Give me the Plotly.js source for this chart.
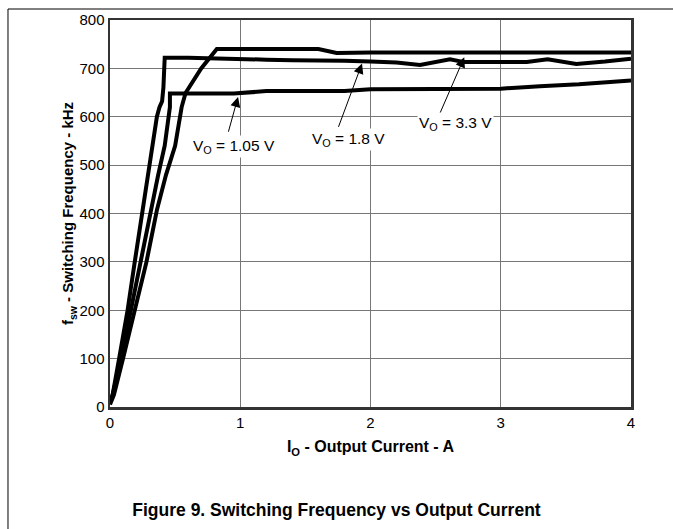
<!DOCTYPE html>
<html>
<head>
<meta charset="utf-8">
<script src="https://cdn.plot.ly/plotly-3.0.1.min.js"></script>
<style>html,body{margin:0;padding:0;background:#fff;}#chart{width:673px;height:529px;}</style>
</head>
<body>
<div id="chart"></div>
<script>
// Output current (A) and switching frequency (kHz) for each output voltage
var io_105 = [0, 0.02, 0.085, 0.16, 0.23, 0.31, 0.37, 0.42, 0.45, 0.46, 0.46, 0.95, 1.2, 1.8, 2.0, 3.0, 3.3, 3.6, 4.0];
var fsw_105 = [10, 25, 100, 200, 300, 407, 480, 540, 610, 620, 648, 648, 653, 653, 657, 658, 663, 667, 675];

var io_18 = [0, 0.03, 0.10, 0.19, 0.28, 0.36, 0.43, 0.50, 0.55, 0.58, 0.70, 0.82, 1.0, 1.3, 1.6, 1.74, 2.0, 3.0, 4.0];
var fsw_18 = [5, 25, 100, 200, 300, 407, 480, 540, 620, 649, 700, 740, 740, 740, 740, 732, 733, 733, 733];

var io_33 = [0, 0.02, 0.07, 0.135, 0.19, 0.25, 0.30, 0.33, 0.36, 0.38, 0.40, 0.41, 0.42, 0.60, 0.80, 1.0, 1.2, 1.4, 1.6, 1.8, 2.0, 2.2, 2.38, 2.61, 2.72, 3.0, 3.2, 3.36, 3.58, 3.8, 4.0];
var fsw_33 = [10, 25, 100, 200, 300, 407, 490, 540, 600, 620, 632, 660, 722, 722, 720, 718, 718, 717, 717, 716, 714, 712, 707, 719, 713, 713, 713, 719, 709, 714, 720];

var xTicks = [0, 1, 2, 3, 4];
var yTicks = [0, 100, 200, 300, 400, 500, 600, 700, 800];

var labels = ["V<sub>O</sub> = 1.05 V", "V<sub>O</sub> = 1.8 V", "V<sub>O</sub> = 3.3 V"];
var labelX = [0.95, 1.83, 2.65];
var labelY = [539, 552, 587];
var tipX = [0.983, 1.935, 2.72];
var tipY = [641, 710, 723];
var tailX = [0.906, 1.75, 2.52];
var tailY = [566, 576, 599];

var font = "Liberation Sans, Arial, Helvetica, sans-serif";

function trace(x, y, name) {
  return {x: x, y: y, name: name, type: 'scatter', mode: 'lines',
          line: {color: '#000', width: 4}, hoverinfo: 'skip'};
}
var data = [trace(io_105, fsw_105, 'VO = 1.05 V'), trace(io_18, fsw_18, 'VO = 1.8 V'), trace(io_33, fsw_33, 'VO = 3.3 V')];

var annotations = [];
for (var i = 0; i < labels.length; i++) {
  annotations.push({x: tipX[i], y: tipY[i], xref: 'x', yref: 'y', ax: tailX[i], ay: tailY[i],
    axref: 'x', ayref: 'y', text: '', showarrow: true, arrowhead: 2, arrowsize: 2,
    arrowwidth: 1, arrowcolor: '#000', standoff: 0});
}
for (var j = 0; j < labels.length; j++) {
  annotations.push({x: labelX[j], y: labelY[j], xref: 'x', yref: 'y', text: labels[j],
    showarrow: false, bgcolor: '#fff', borderpad: 1, font: {family: font, size: 15.5, color: '#000'}});
}

var layout = {
  width: 673, height: 529,
  margin: {l: 110, r: 42, t: 20, b: 122},
  paper_bgcolor: '#fff', plot_bgcolor: '#fff',
  showlegend: false,
  font: {family: font, size: 15, color: '#000'},
  title: {text: '<b>Figure 9. Switching Frequency vs Output Current</b>',
          x: 0.5, xref: 'container', y: 0.036, yref: 'container', yanchor: 'middle', xanchor: 'center',
          font: {family: font, size: 17.5, color: '#000'}},
  xaxis: {range: [0, 4], tickvals: xTicks, ticktext: xTicks.map(String), showgrid: true,
          gridcolor: '#777', gridwidth: 1, zeroline: false, showline: true, mirror: true,
          linecolor: '#333', linewidth: 2.5, ticks: '', ticklen: 0,
          tickfont: {family: font, size: 15, color: '#000'},
          title: {text: '<b>I<sub>O</sub> - Output Current - A</b>', standoff: 12,
                  font: {family: font, size: 16, color: '#000'}}},
  yaxis: {range: [0, 800], tickvals: yTicks, ticktext: yTicks.map(String), showgrid: true,
          gridcolor: '#777', gridwidth: 1, zeroline: false, showline: true, mirror: true,
          linecolor: '#333', linewidth: 2.5, ticks: '', ticklen: 0,
          tickfont: {family: font, size: 15, color: '#000'},
          title: {text: '<b>f<sub>sw</sub> - Switching Frequency - kHz</b>', standoff: 2,
                  font: {family: font, size: 15, color: '#000'}}},
  annotations: annotations,
  shapes: [
    {type: 'line', xref: 'paper', yref: 'paper', x0: -0.1958, x1: 1.09, y0: 1.0284, y1: 1.0284,
     line: {color: '#000', width: 1}},
    {type: 'line', xref: 'paper', yref: 'paper', x0: -0.1958, x1: -0.1958, y0: 1.0284, y1: -0.33,
     line: {color: '#000', width: 1}}
  ]
};

Plotly.newPlot('chart', data, layout, {staticPlot: true, displayModeBar: false});
</script>
</body>
</html>
